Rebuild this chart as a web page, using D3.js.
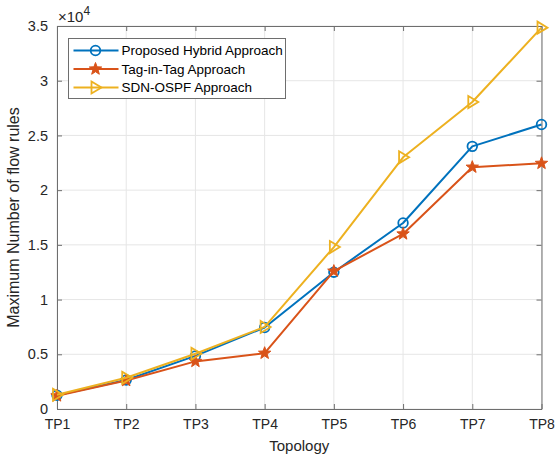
<!DOCTYPE html>
<html>
<head>
<meta charset="utf-8">
<script src="https://cdn.jsdelivr.net/npm/d3@7"></script>
<style>
  html, body { margin: 0; padding: 0; background: #fff; }
  svg { display: block; font-family: "Liberation Sans", Arial, Helvetica, sans-serif; }
</style>
</head>
<body>
<svg id="chart" width="555" height="457"></svg>
<script>
// Topologies on the x axis
const topologies = ["TP1", "TP2", "TP3", "TP4", "TP5", "TP6", "TP7", "TP8"];

// Maximum number of flow rules per approach
const hybridRules  = [1250, 2650, 4850, 7450, 12500, 17000, 24000, 26000];
const tagInTagRules = [1200, 2600, 4350, 5100, 12600, 16000, 22100, 22450];
const sdnOspfRules = [1300, 2850, 5050, 7500, 14800, 23000, 28050, 34850];

// Y tick values (raw counts), labelled in units of 10^4
const yTicks = [0, 5000, 10000, 15000, 20000, 25000, 30000, 35000];

const seriesNames = ["Proposed Hybrid Approach", "Tag-in-Tag Approach", "SDN-OSPF Approach"];
const seriesColors = ["#0072BD", "#D95319", "#EDB120"];
const seriesMarkers = ["circle", "star", "triangle"];
const seriesValues = [hybridRules, tagInTagRules, sdnOspfRules];

const svg = d3.select("#chart");
const plot = { left: 57, right: 541.5, top: 26, bottom: 409 };

const x = d3.scalePoint().domain(topologies).range([plot.left, plot.right]).padding(0);
const y = d3.scaleLinear().domain([0, 35000]).range([plot.bottom, plot.top]);

const axisColor = "#6e6e6e";
const gridColor = "#e6e6e6";
const textColor = "#262626";

// Grid
const grid = svg.append("g");
grid.selectAll("line.gx").data(topologies).enter().append("line")
  .attr("x1", d => x(d)).attr("x2", d => x(d))
  .attr("y1", plot.top).attr("y2", plot.bottom)
  .attr("stroke", gridColor).attr("stroke-width", 1);
grid.selectAll("line.gy").data(yTicks).enter().append("line")
  .attr("x1", plot.left).attr("x2", plot.right)
  .attr("y1", d => y(d)).attr("y2", d => y(d))
  .attr("stroke", gridColor).attr("stroke-width", 1);

// Axes (ticks point inward, box on all four sides)
const fmt = d => d3.format("")(d / 10000);
const xAxisB = d3.axisBottom(x).tickSizeInner(-5).tickSizeOuter(0).tickPadding(10);
const xAxisT = d3.axisTop(x).tickSizeInner(-5).tickSizeOuter(0).tickFormat("");
const yAxisL = d3.axisLeft(y).tickValues(yTicks).tickFormat(fmt).tickSizeInner(-5).tickSizeOuter(0).tickPadding(9);
const yAxisR = d3.axisRight(y).tickValues(yTicks).tickFormat("").tickSizeInner(-5).tickSizeOuter(0);

function styleAxis(g, size) {
  g.select(".domain").attr("stroke", axisColor).attr("stroke-width", 1);
  g.selectAll(".tick line").attr("stroke", axisColor).attr("stroke-width", 1);
  g.selectAll(".tick text").attr("fill", textColor).attr("font-size", size)
    .attr("font-family", "Liberation Sans, Arial, sans-serif");
}

svg.append("g").attr("transform", `translate(0,${plot.bottom})`).call(xAxisB).call(styleAxis, 14);
svg.append("g").attr("transform", `translate(0,${plot.top})`).call(xAxisT).call(styleAxis, 14);
svg.append("g").attr("transform", `translate(${plot.left},0)`).call(yAxisL).call(styleAxis, 14.5);
svg.append("g").attr("transform", `translate(${plot.right},0)`).call(yAxisR).call(styleAxis, 14);

// Exponent label
const expo = svg.append("text").attr("x", plot.left + 1).attr("y", 22)
  .attr("fill", textColor).attr("font-size", 15);
expo.append("tspan").text("\u00d710");
expo.append("tspan").attr("dy", -7).attr("font-size", 12).text("4");

// Axis titles
svg.append("text").attr("x", (plot.left + plot.right) / 2).attr("y", 451)
  .attr("text-anchor", "middle").attr("fill", textColor).attr("font-size", 15)
  .text("Topology");
svg.append("text")
  .attr("transform", `translate(19,${(plot.top + plot.bottom) / 2}) rotate(-90)`)
  .attr("text-anchor", "middle").attr("fill", textColor).attr("font-size", 16)
  .text("Maximum Number of flow rules");

// Marker drawing
const starPath = (() => {
  const pts = [];
  const R = 6.5, r = 2.7;
  for (let i = 0; i < 10; i++) {
    const a = -Math.PI / 2 + i * Math.PI / 5;
    const rad = i % 2 === 0 ? R : r;
    pts.push([rad * Math.cos(a), rad * Math.sin(a)]);
  }
  return "M" + pts.map(p => p.join(",")).join("L") + "Z";
})();
const triPath = "M-4,-6L6,0L-4,6Z";

function drawMarker(g, type, color) {
  if (type === "circle") {
    g.append("circle").attr("r", 4.8).attr("fill", "none")
      .attr("stroke", color).attr("stroke-width", 1.8);
  } else if (type === "star") {
    g.append("path").attr("d", starPath).attr("fill", color)
      .attr("stroke", color).attr("stroke-width", 1).attr("stroke-linejoin", "round");
  } else {
    g.append("path").attr("d", triPath).attr("fill", "none")
      .attr("stroke", color).attr("stroke-width", 1.8).attr("stroke-linejoin", "miter");
  }
}

// Series lines and markers
const line = d3.line().x((d, i) => x(topologies[i])).y(d => y(d));
seriesValues.forEach((vals, s) => {
  const g = svg.append("g");
  g.append("path").datum(vals).attr("d", line).attr("fill", "none")
    .attr("stroke", seriesColors[s]).attr("stroke-width", 2).attr("stroke-linejoin", "round");
  vals.forEach((v, i) => {
    const m = g.append("g").attr("transform", `translate(${x(topologies[i])},${y(v)})`);
    drawMarker(m, seriesMarkers[s], seriesColors[s]);
  });
});

// Legend
const legend = svg.append("g").attr("transform", "translate(68.5,38.5)");
legend.append("rect").attr("width", 217).attr("height", 60)
  .attr("fill", "#fff").attr("stroke", axisColor).attr("stroke-width", 1);
seriesNames.forEach((name, s) => {
  const row = legend.append("g").attr("transform", `translate(0,${12 + s * 18.5})`);
  row.append("line").attr("x1", 5).attr("x2", 50).attr("y1", 0).attr("y2", 0)
    .attr("stroke", seriesColors[s]).attr("stroke-width", 2);
  const m = row.append("g").attr("transform", "translate(27,0)");
  drawMarker(m, seriesMarkers[s], seriesColors[s]);
  row.append("text").attr("x", 53).attr("y", 4.8).attr("fill", "#000")
    .attr("font-size", 13.5).text(name);
});
</script>
</body>
</html>
